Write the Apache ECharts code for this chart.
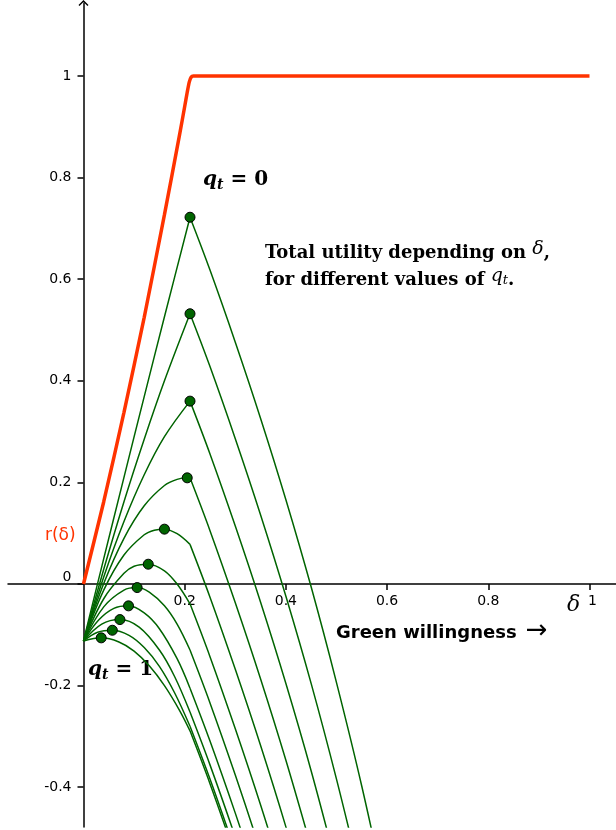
<!DOCTYPE html>
<html>
<head>
<meta charset="UTF-8">
<title>Total utility depending on delta</title>
<style>
  html, body { margin: 0; padding: 0; background: #fff; }
  #main { width: 616px; height: 830px; }
</style>
<script src="https://cdn.jsdelivr.net/npm/echarts@6.0.0/dist/echarts.min.js"></script>
</head>
<body>
<div id="main"></div>
<script>
// r(delta), the red curve
var redCurve = [[0, 0], [0.04, 0.162], [0.08, 0.338], [0.12, 0.525], [0.16, 0.727], [0.19, 0.885],
    [0.2, 0.94], [0.205, 0.968], [0.209, 0.988], [0.213, 0.998], [0.217, 1], [1, 1]];

// total utility, one curve per value of q_t (q_t = 0 on top, q_t = 1 at the bottom)
var qCurve0 = [[0, -0.112], [0.04, 0.050], [0.08, 0.210], [0.12, 0.369], [0.16, 0.526], [0.2105, 0.722],
    [0.25, 0.618], [0.30, 0.476], [0.35, 0.326], [0.40, 0.166], [0.45, -0.006], [0.50, -0.194], [0.55, -0.398], [0.60, -0.625]];
var qCurve1 = [[0, -0.112], [0.04, 0.029], [0.08, 0.162], [0.12, 0.285], [0.16, 0.400], [0.2105, 0.532],
    [0.25, 0.428], [0.30, 0.286], [0.35, 0.136], [0.40, -0.024], [0.45, -0.196], [0.50, -0.384], [0.55, -0.588]];
var qCurve2 = [[0, -0.112], [0.04, 0.014], [0.08, 0.123], [0.12, 0.215], [0.16, 0.290], [0.2105, 0.360],
    [0.25, 0.256], [0.30, 0.114], [0.35, -0.036], [0.40, -0.196], [0.45, -0.368], [0.50, -0.556]];
var qCurve3 = [[0, -0.112], [0.04, 0.001], [0.08, 0.090], [0.12, 0.154], [0.16, 0.194], [0.185, 0.206], [0.205, 0.209],
    [0.2105, 0.209], [0.25, 0.105], [0.30, -0.037], [0.35, -0.187], [0.40, -0.347], [0.45, -0.519]];
var qCurve4 = [[0, -0.112], [0.04, -0.012], [0.08, 0.057], [0.12, 0.097], [0.14, 0.106], [0.16, 0.108], [0.185, 0.099],
    [0.2105, 0.078], [0.25, -0.026], [0.30, -0.168], [0.35, -0.318], [0.40, -0.478], [0.45, -0.650]];
var qCurve5 = [[0, -0.112], [0.04, -0.029], [0.08, 0.021], [0.10, 0.035], [0.128, 0.039], [0.16, 0.026], [0.185, 0.000],
    [0.2105, -0.039], [0.25, -0.143], [0.30, -0.285], [0.35, -0.435], [0.40, -0.595]];
var qCurve6 = [[0, -0.112], [0.04, -0.045], [0.08, -0.012], [0.106, -0.007], [0.13, -0.016], [0.16, -0.043], [0.185, -0.079],
    [0.2105, -0.130], [0.25, -0.234], [0.30, -0.376], [0.35, -0.526]];
var qCurve7 = [[0, -0.112], [0.03, -0.071], [0.06, -0.048], [0.089, -0.043], [0.12, -0.057], [0.15, -0.088], [0.185, -0.147],
    [0.2105, -0.205], [0.25, -0.309], [0.30, -0.451], [0.35, -0.601]];
var qCurve8 = [[0, -0.112], [0.036, -0.079], [0.072, -0.070], [0.11, -0.085], [0.15, -0.130], [0.18, -0.182],
    [0.2105, -0.252], [0.25, -0.356], [0.30, -0.498], [0.35, -0.648]];
var qCurve9 = [[0, -0.112], [0.028, -0.095], [0.057, -0.091], [0.09, -0.101], [0.12, -0.125], [0.15, -0.162], [0.18, -0.214],
    [0.2105, -0.280], [0.25, -0.384], [0.30, -0.526]];
var qCurve10 = [[0, -0.112], [0.035, -0.106], [0.07, -0.114], [0.10, -0.132], [0.13, -0.161], [0.16, -0.200], [0.19, -0.249],
    [0.2105, -0.289], [0.25, -0.393], [0.30, -0.535]];

// maximum of each curve (the dots)
var peaks = [[0.2105, 0.722], [0.2105, 0.532], [0.2105, 0.360], [0.205, 0.209], [0.16, 0.108], [0.128, 0.039],
    [0.106, -0.007], [0.089, -0.043], [0.072, -0.070], [0.057, -0.091], [0.035, -0.106]];

var kinkX = 0.2105;   // r(delta) reaches 1 here, the curves bend
var xTicks = [0.2, 0.4, 0.6, 0.8, 1];
var yTicks = [-0.4, -0.2, 0, 0.2, 0.4, 0.6, 0.8, 1];

var xMin = -0.1492, xMax = 1.0524;
var yMin = -0.4783, yMax = 1.1437;

var W = 616, H = 830;
var gridL = 8, gridR = 0, gridT = 3, gridB = 3;

var green = '#006400';
var red = '#ff3300';
var qCurves = [qCurve0, qCurve1, qCurve2, qCurve3, qCurve4, qCurve5, qCurve6, qCurve7, qCurve8, qCurve9, qCurve10];

// axes cross at (0, 0): move them from the grid edges with offset
var plotW = W - gridL - gridR, plotH = H - gridT - gridB;
var xAxisOffset = -(plotH * (0 - yMin) / (yMax - yMin));
var yAxisOffset = -(plotW * (0 - xMin) / (xMax - xMin));

var series = [];
qCurves.forEach(function (d) {
    // rising part and falling part drawn apart so the bend stays sharp
    var rise = d.filter(function (p) { return p[0] <= kinkX; });
    var fall = d.filter(function (p) { return p[0] >= kinkX; });
    [rise, fall].forEach(function (part) {
        series.push({
            type: 'line',
            data: part,
            smooth: 0.35,
            showSymbol: false,
            silent: true,
            z: 2,
            lineStyle: { color: green, width: 1.5 }
        });
    });
});
series.push({
    type: 'line',
    data: redCurve,
    smooth: 0.2,
    showSymbol: false,
    silent: true,
    z: 3,
    lineStyle: { color: red, width: 3.5 }
});
series.push({
    type: 'scatter',
    data: peaks,
    symbolSize: 10,
    silent: true,
    z: 4,
    itemStyle: { color: green, borderColor: '#000', borderWidth: 1, opacity: 1 }
});

var axisColor = '#000';
var myChart = echarts.init(document.getElementById('main'));

var option = {
    animation: false,
    backgroundColor: '#fff',
    textStyle: { fontFamily: 'DejaVu Sans' },
    grid: {
        left: gridL, right: gridR, top: gridT, bottom: gridB,
        containLabel: false,
        outerBoundsMode: 'none'
    },
    xAxis: {
        type: 'value',
        min: xMin,
        max: xMax,
        position: 'bottom',
        offset: xAxisOffset,
        axisLine: { onZero: false, lineStyle: { color: axisColor, width: 1.5 } },
        axisTick: { customValues: xTicks, length: 6, lineStyle: { color: axisColor, width: 1.5 } },
        axisLabel: {
            customValues: xTicks,
            margin: 10,
            color: '#000',
            fontSize: 14,
            fontFamily: 'DejaVu Sans',
            formatter: function (v) { return v === 1 ? '{o|1}' : String(v); },
            rich: { o: { fontSize: 14, fontFamily: 'DejaVu Sans', color: '#000', padding: [0, 0, 0, 6] } }
        },
        splitLine: { show: false }
    },
    yAxis: {
        type: 'value',
        min: yMin,
        max: yMax,
        position: 'left',
        offset: yAxisOffset,
        axisLine: {
            onZero: false,
            symbol: ['none', 'path://M0,5 L5,0 L10,5 L9,6 L5,2 L1,6 Z'],
            symbolSize: [10, 6],
            lineStyle: { color: axisColor, width: 1.5 }
        },
        axisTick: { customValues: yTicks, length: 6, lineStyle: { color: axisColor, width: 1.5 } },
        axisLabel: {
            customValues: yTicks,
            margin: 12,
            color: '#000',
            fontSize: 14,
            fontFamily: 'DejaVu Sans',
            formatter: function (v) { return v === 0 ? '{z|0}' : String(v); },
            rich: { z: { fontSize: 14, fontFamily: 'DejaVu Sans', color: '#000', padding: [0, 0, 14, 0] } }
        },
        splitLine: { show: false }
    },
    graphic: [
        {
            type: 'text', left: 203, top: 170,
            style: {
                text: '{q|q}{t|t}{e| = 0}',
                rich: {
                    q: { fontFamily: 'DejaVu Serif', fontStyle: 'italic', fontWeight: 'bold', fontSize: 20, lineHeight: 24, fill: '#000' },
                    t: { fontFamily: 'DejaVu Serif', fontStyle: 'italic', fontWeight: 'bold', fontSize: 14, lineHeight: 14, verticalAlign: 'bottom', fill: '#000' },
                    e: { fontFamily: 'DejaVu Serif', fontWeight: 'bold', fontSize: 20, lineHeight: 24, fill: '#000' }
                }
            }
        },
        {
            type: 'text', left: 88, top: 660,
            style: {
                text: '{q|q}{t|t}{e| = 1}',
                rich: {
                    q: { fontFamily: 'DejaVu Serif', fontStyle: 'italic', fontWeight: 'bold', fontSize: 20, lineHeight: 24, fill: '#000' },
                    t: { fontFamily: 'DejaVu Serif', fontStyle: 'italic', fontWeight: 'bold', fontSize: 14, lineHeight: 14, verticalAlign: 'bottom', fill: '#000' },
                    e: { fontFamily: 'DejaVu Serif', fontWeight: 'bold', fontSize: 20, lineHeight: 24, fill: '#000' }
                }
            }
        },
        {
            type: 'text', left: 265, top: 240,
            style: {
                text: '{b|Total utility depending on }{d|δ}{b|,}\n{b|for different values of }{d|q}{s|t}{b|.}',
                rich: {
                    b: { fontFamily: 'DejaVu Serif', fontWeight: 'bold', fontSize: 18, lineHeight: 27, fill: '#000' },
                    d: { fontFamily: 'DejaVu Serif', fontStyle: 'italic', fontSize: 19, lineHeight: 19, verticalAlign: 'top', fill: '#000' },
                    s: { fontFamily: 'DejaVu Serif', fontStyle: 'italic', fontSize: 13, lineHeight: 13, fill: '#000' }
                }
            }
        },
        {
            type: 'text', left: 45, top: 527,
            style: { text: 'r(δ)', fontFamily: 'DejaVu Sans', fontSize: 17, fill: red }
        },
        {
            type: 'text', left: 567, top: 594,
            style: { text: 'δ', fontFamily: 'DejaVu Serif', fontStyle: 'italic', fontSize: 22, fill: '#000' }
        },
        {
            type: 'text', left: 336, top: 618,
            style: {
                text: '{b|Green willingness }{a|→}',
                rich: {
                    b: { fontFamily: 'DejaVu Sans', fontWeight: 'bold', fontSize: 18, lineHeight: 22, fill: '#000' },
                    a: { fontFamily: 'DejaVu Sans', fontSize: 26, lineHeight: 22, padding: [0, 0, 5, 3], fill: '#000' }
                }
            }
        }
    ],
    series: series
};

myChart.setOption(option);
</script>
</body>
</html>
